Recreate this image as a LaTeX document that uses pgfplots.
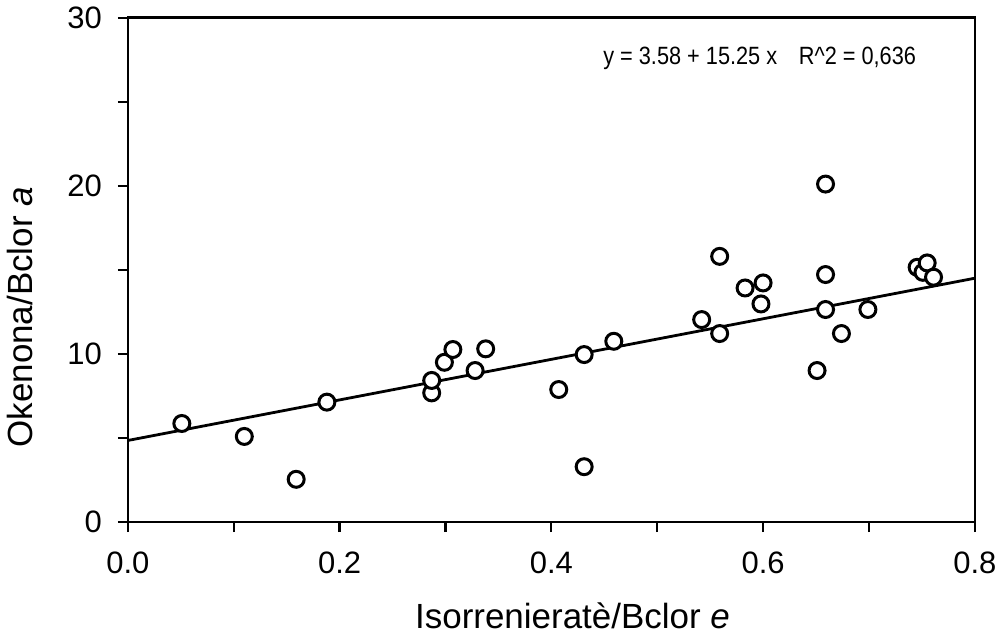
\documentclass[border=0pt]{standalone}
\usepackage{pgfplots}
\pgfplotsset{compat=1.18}
\usepackage{graphicx}
\usepackage{fontspec}
\setmainfont{Liberation Sans}
\begin{document}
\begin{tikzpicture}
\begin{axis}[
  name=ax,
  scale only axis,
  width=424pt, height=252.5pt,
  xmin=0, xmax=0.8, ymin=0, ymax=30,
  axis line style={line width=1.2pt},
  tick style={line width=1.1pt, black},
  tick align=outside,
  major tick length=5pt, minor tick length=5pt,
  xtick pos=left, ytick pos=left,
  xtick={0,0.2,0.4,0.6,0.8},
  minor xtick={0.1,0.3,0.5,0.7},
  ytick={0,10,20,30},
  minor ytick={5,15,25},
  xticklabels={0.0,0.2,0.4,0.6,0.8},
  yticklabels={0,10,20,30},
  /pgf/number format/assume math mode=true,
  ticklabel style={font=\fontsize{15.5}{18}\selectfont},
  yticklabel style={xshift=-4.5pt},
  xticklabel style={yshift=-6.5pt},
  xlabel={Isorrenieratè/Bclor \textit{e}},
  ylabel={Okenona/Bclor \textit{a}},
  label style={font=\fontsize{17.5}{20}\selectfont},
  xlabel style={at={(axis description cs:0.525,-0.2119)}, anchor=base},
  ylabel style={at={(axis description cs:-0.1274,0.406)}, anchor=center, rotate=0},
  clip=false,
]
\addplot[black, line width=1.4pt] coordinates {(0,4.85) (0.8,14.5)};
\addplot[only marks, mark=*, mark size=4pt,
  mark options={fill=white, draw=black, line width=1.5pt}] coordinates {
(0.051,5.86)
(0.110,5.09)
(0.159,2.54)
(0.188,7.13)
(0.287,7.68)
(0.287,8.42)
(0.299,9.50)
(0.307,10.26)
(0.328,9.01)
(0.338,10.30)
(0.407,7.88)
(0.431,9.96)
(0.431,3.29)
(0.459,10.75)
(0.542,12.04)
(0.559,11.21)
(0.559,15.80)
(0.583,13.92)
(0.600,14.22)
(0.598,12.97)
(0.659,20.10)
(0.659,14.72)
(0.659,12.64)
(0.651,9.01)
(0.674,11.21)
(0.699,12.64)
(0.7455,15.15)
(0.751,14.85)
(0.755,15.41)
(0.761,14.56)
};
\node[anchor=base west, inner sep=0pt] at (axis cs:0.4487,27.2)
  {\scalebox{0.87}[1]{\fontsize{12.5}{15}\selectfont y = 3.58 + 15.25 x\hspace{1em}R\textasciicircum 2 = 0,636}};
\end{axis}
\path (ax.south west) ++(-64pt,-55.5pt) coordinate (bl);
\path (ax.north east) ++(13.5pt,8pt) coordinate (tr);
\path[use as bounding box] (bl) rectangle (tr);
\end{tikzpicture}
\end{document}
